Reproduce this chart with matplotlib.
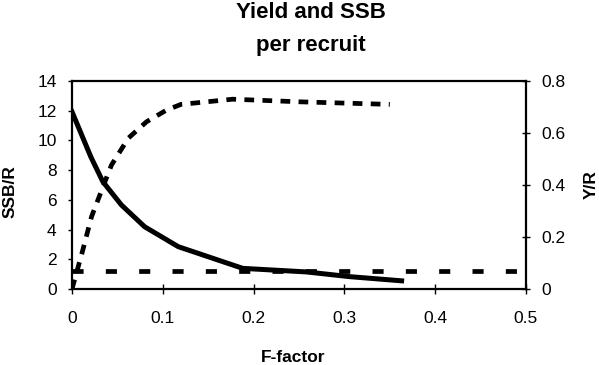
import matplotlib
matplotlib.use("Agg")
import matplotlib.pyplot as plt

plt.rcParams['font.family'] = ['Liberation Sans', 'DejaVu Sans']
plt.rcParams['lines.scale_dashes'] = False

# Data
f_ssb = [0.0, 0.0207, 0.034, 0.0545, 0.080, 0.117, 0.188, 0.258, 0.306, 0.363]
ssb_r = [11.93, 8.9, 7.22, 5.65, 4.19, 2.85, 1.39, 1.15, 0.83, 0.55]

f_yr = [0.0, 0.011, 0.0215, 0.036, 0.0435, 0.062, 0.082, 0.104, 0.12, 0.177, 0.25, 0.35]
y_r = [0.0, 0.138, 0.278, 0.41, 0.477, 0.58, 0.643, 0.688, 0.71, 0.73, 0.72, 0.71]

f_ref = [0.0, 0.5]
ssb_ref = [1.23, 1.23]

x_ticks = [0, 0.1, 0.2, 0.3, 0.4, 0.5]
x_ticklabels = ['0', '0.1', '0.2', '0.3', '0.4', '0.5']
left_ticks = [0, 2, 4, 6, 8, 10, 12, 14]
right_ticks = [0, 0.2, 0.4, 0.6, 0.8]
right_ticklabels = ['0', '0.2', '0.4', '0.6', '0.8']

W, H = 599, 365
x0, x1, y0, y1 = 72, 526, 289, 81

fig = plt.figure(figsize=(W/100, H/100), dpi=100)
ax = fig.add_axes([x0/W, (H-y0)/H, (x1-x0)/W, (y0-y1)/H])
ax2 = ax.twinx()

ax.plot(f_ssb, ssb_r, color='black', lw=3.6, solid_joinstyle='round')
ax.plot(f_ref, ssb_ref, color='black', lw=3.4, dashes=(8, 16), dash_capstyle='butt')
ax2.plot(f_yr, y_r, color='black', lw=3.4, dashes=(7, 6), dash_capstyle='butt')

ax.set_xlim(0, 0.5)
ax.set_ylim(0, 14)
ax2.set_ylim(0, 0.8)
ax.set_xticks(x_ticks)
ax.set_xticklabels(x_ticklabels)
ax.set_yticks(left_ticks)
ax2.set_yticks(right_ticks)
ax2.set_yticklabels(right_ticklabels)

for a in (ax, ax2):
    for s in a.spines.values():
        s.set_visible(False)
ax.spines['left'].set_visible(True)
ax.spines['bottom'].set_visible(True)
ax2.spines['right'].set_visible(True)
ax.spines['top'].set_visible(True)
for s in ('left', 'bottom', 'top'):
    ax.spines[s].set_linewidth(1.6)
ax2.spines['right'].set_linewidth(1.6)

fs = 12.5
ax.tick_params(axis='x', direction='inout', length=7, width=1, labelsize=fs, pad=12)
ax.tick_params(axis='y', direction='out', length=3, width=1, labelsize=fs, pad=8)
ax2.tick_params(axis='y', direction='inout', length=6, width=1, labelsize=fs, pad=8)

ax.set_xlabel('F-factor', fontsize=12.5, fontweight='bold')
ax.set_ylabel('SSB/R', fontsize=12.5, fontweight='bold')
ax2.set_ylabel('Y/R', fontsize=12.5, fontweight='bold')
ax.xaxis.set_label_coords((293 - x0)/(x1 - x0), (y0 - 350)/(y0 - y1))
ax.yaxis.set_label_coords((18 - x0)/(x1 - x0), 0.47)
ax2.yaxis.set_label_coords((584 - x0)/(x1 - x0), 0.5)

fig.text(311/W, 1 - 18/H, 'Yield and SSB', ha='center', va='baseline',
         fontsize=16, fontweight='bold')
fig.text(311/W, 1 - 51/H, 'per recruit', ha='center', va='baseline',
         fontsize=16, fontweight='bold')

fig.savefig('out.png', dpi=100)
